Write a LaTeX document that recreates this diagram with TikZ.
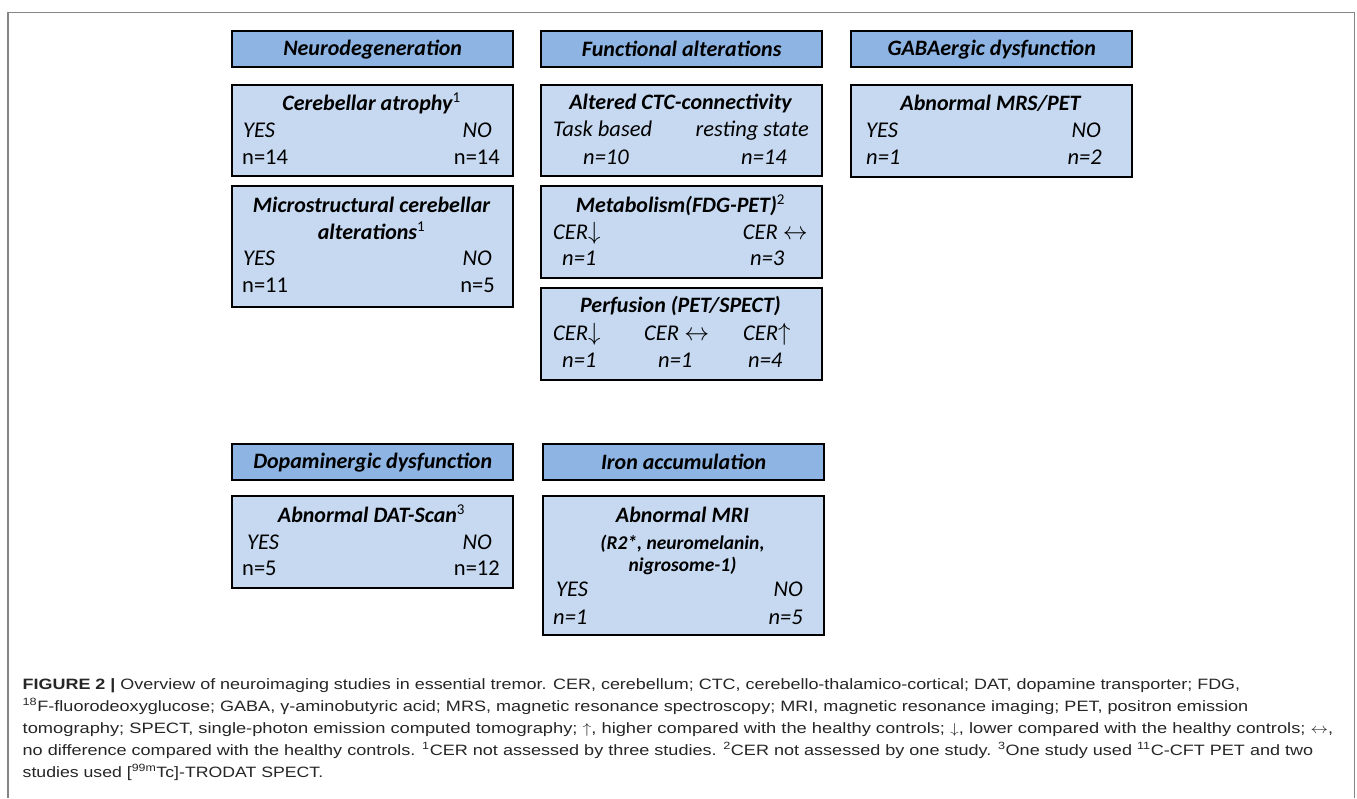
\documentclass[tikz,border=0pt]{standalone}
\usepackage{fontspec}
\usepackage{graphicx}
\setmainfont{Carlito}
\newfontfamily\capfont{Liberation Sans}
\definecolor{hdrblue}{HTML}{8DB4E2}
\definecolor{boxblue}{HTML}{C6D9F1}
\definecolor{framegray}{HTML}{858585}
\definecolor{captext}{HTML}{262626}
\newcommand{\fitw}[2]{\resizebox{#1pt}{\height}{#2}}
\newcommand{\supn}[1]{\textsuperscript{\normalfont\fontsize{15}{16}\selectfont #1}}
\newcommand{\barr}[1]{\smash{\fontsize{26}{26}\selectfont$#1$}}
\tikzset{
  hdrbox/.style={draw=black, line width=2.4pt, fill=hdrblue, anchor=north west, inner sep=0pt,
    minimum width=281pt, minimum height=36pt, font=\fontsize{22}{26}\selectfont\bfseries\itshape},
  cbox/.style={draw=black, line width=2.4pt, fill=boxblue, anchor=north west, inner sep=0pt,
    minimum width=281pt},
  ttl/.style={anchor=base, inner sep=0pt, font=\fontsize{22}{26}\selectfont\bfseries\itshape},
  sttl/.style={anchor=base, inner sep=0pt, font=\fontsize{19.5}{22}\selectfont\bfseries\itshape},
  lt/.style={anchor=base west, inner sep=0pt, font=\fontsize{22.5}{26}\selectfont},
  rt/.style={anchor=base east, inner sep=0pt, font=\fontsize{22.5}{26}\selectfont},
  capline/.style={anchor=base west, inner sep=0pt, text=captext, font=\capfont\fontsize{15}{18}\selectfont},
  frameline/.style={draw=framegray, line width=1.6pt}
}
\begin{document}
\begin{tikzpicture}[x=1pt, y=-1pt]
\useasboundingbox (0,0) rectangle (1357,798);
\fill[white] (0,0) rectangle (1357,798);
% outer frame
\coordinate (fbl) at (8,798);
\coordinate (ftl) at (8,12.5);
\coordinate (ftr) at (1354.5,12.5);
\coordinate (fbr) at (1354.5,798);
\draw[frameline] (fbl) -- (ftl) -- (ftr) -- (fbr);

% ---------- column 1: Neurodegeneration
\node[hdrbox] (h1) at (231,30) {Neurodegeneration};
\node[cbox, minimum height=91pt] (b11) at (231,84) {};
\node[ttl] (b11t) at (371.5,110) {Cerebellar atrophy\supn{1}};
\node[lt] (b11y) at (243,137) {\itshape YES};
\node[rt] (b11n) at (492,137) {\itshape NO};
\node[lt] (b11a) at (242,164) {n=14};
\node[rt] (b11b) at (500,164) {n=14};

\node[cbox, minimum height=121pt] (b12) at (231,185) {};
\node[ttl] (b12t) at (371.5,212) {Microstructural cerebellar};
\node[ttl] (b12u) at (371.5,239) {alterations\supn{1}};
\node[lt] (b12y) at (243,265) {\itshape YES};
\node[rt] (b12n) at (492,265) {\itshape NO};
\node[lt] (b12a) at (242,292) {n=11};
\node[rt] (b12b) at (495,292) {n=5};

% ---------- column 2: Functional alterations
\node[hdrbox] (h2) at (540,30) {Functional alterations};
\node[cbox, minimum height=91pt] (b21) at (540,84) {};
\node[ttl] (b21t) at (680.5,109) {Altered CTC-connectivity};
\node[lt] (b21y) at (553,136) {\itshape Task based};
\node[rt] (b21n) at (809,136) {\itshape resting state};
\node[lt] (b21a) at (583,164) {\itshape n=10};
\node[lt] (b21b) at (741,164) {\itshape n=14};

\node[cbox, minimum height=92pt] (b22) at (540,185) {};
\node[ttl] (b22t) at (680.5,212) {Metabolism(FDG-PET)\supn{2}};
\node[lt] (b22y) at (553,239) {\itshape CER\barr{\downarrow}};
\node[rt] (b22n) at (808,239) {\itshape CER \barr{\leftrightarrow}};
\node[lt] (b22a) at (562,265) {\itshape n=1};
\node[lt] (b22b) at (750,265) {\itshape n=3};

\node[cbox, minimum height=92pt] (b23) at (540,287) {};
\node[ttl] (b23t) at (680.5,312) {Perfusion (PET/SPECT)};
\node[lt] (b23x) at (553,340) {\itshape CER\barr{\downarrow}};
\node[lt] (b23y) at (644,340) {\itshape CER \barr{\leftrightarrow}};
\node[lt] (b23z) at (743,340) {\itshape CER\barr{\uparrow}};
\node[lt] (b23a) at (562,367) {\itshape n=1};
\node[lt] (b23b) at (658,367) {\itshape n=1};
\node[lt] (b23c) at (748,367) {\itshape n=4};

% ---------- column 3: GABAergic dysfunction
\node[hdrbox] (h3) at (850,30) {GABAergic dysfunction};
\node[cbox, minimum height=92pt] (b31) at (850,84) {};
\node[ttl] (b31t) at (990.5,110) {Abnormal MRS/PET};
\node[lt] (b31y) at (866,137) {\itshape YES};
\node[rt] (b31n) at (1101,137) {\itshape NO};
\node[lt] (b31a) at (866,164) {\itshape n=1};
\node[rt] (b31b) at (1102,164) {\itshape n=2};

% ---------- bottom row: Dopaminergic dysfunction
\node[hdrbox] (h4) at (231,443) {Dopaminergic dysfunction};
\node[cbox, minimum height=92pt] (b41) at (231,495) {};
\node[ttl] (b41t) at (371.5,522) {Abnormal DAT-Scan\supn{3}};
\node[lt] (b41y) at (247,549) {\itshape YES};
\node[rt] (b41n) at (492,549) {\itshape NO};
\node[lt] (b41a) at (242,575) {n=5};
\node[rt] (b41b) at (500,575) {n=12};

% ---------- bottom row: Iron accumulation
\node[hdrbox] (h5) at (542,443) {Iron accumulation};
\node[cbox, minimum height=139pt] (b51) at (542,495) {};
\node[ttl] (b51t) at (682.5,522) {Abnormal MRI};
\node[sttl] (b51u) at (682.5,549) {(R2*, neuromelanin,};
\node[sttl] (b51v) at (682.5,571) {nigrosome-1)};
\node[lt] (b51y) at (556,596) {\itshape YES};
\node[rt] (b51n) at (803,596) {\itshape NO};
\node[lt] (b51a) at (553,624) {\itshape n=1};
\node[rt] (b51b) at (803,624) {\itshape n=5};

% ---------- caption
\node[capline] (c1) at (22.5,689) {\fitw{1217.5}{\textbf{FIGURE 2 |} Overview of neuroimaging studies in essential tremor. CER, cerebellum; CTC, cerebello-thalamico-cortical; DAT, dopamine transporter; FDG,}};
\node[capline] (c2) at (22.5,711) {\fitw{1225.5}{\textsuperscript{18}F-fluorodeoxyglucose; GABA, γ-aminobutyric acid; MRS, magnetic resonance spectroscopy; MRI, magnetic resonance imaging; PET, positron emission}};
\node[capline] (c3) at (22.5,733) {\fitw{1310.5}{tomography; SPECT, single-photon emission computed tomography; $\uparrow$, higher compared with the healthy controls; $\downarrow$, lower compared with the healthy controls; $\leftrightarrow$,}};
\node[capline] (c4) at (22.5,755) {\fitw{1290.5}{no difference compared with the healthy controls. \textsuperscript{1}CER not assessed by three studies. \textsuperscript{2}CER not assessed by one study. \textsuperscript{3}One study used \textsuperscript{11}C-CFT PET and two}};
\node[capline] (c5) at (22.5,777) {\fitw{300.5}{studies used [\textsuperscript{99m}Tc]-TRODAT SPECT.}};
\end{tikzpicture}
\end{document}
